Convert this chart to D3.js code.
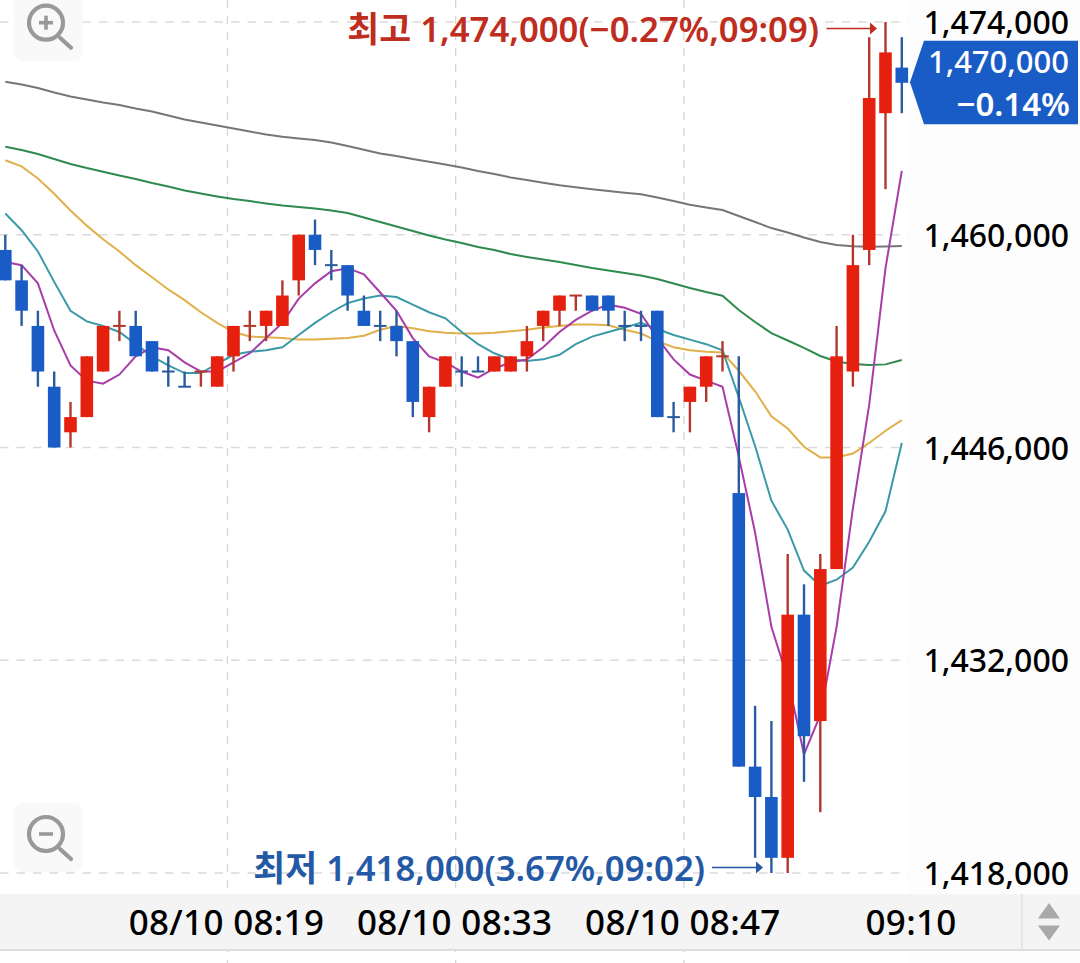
<!DOCTYPE html>
<html><head><meta charset="utf-8">
<script src="https://cdn.jsdelivr.net/npm/d3@7"></script>
<style>
html,body{margin:0;padding:0;background:#fff;overflow:hidden}
text{font-family:"Noto Sans","Noto Sans CJK KR",sans-serif}
</style></head><body><svg id="c" width="1080" height="963"></svg>
<script>
// prices in thousands of won
const opens=[1459,1457,1454,1450,1447,1448,1451,1454,1454,1453,1451,1450,1451,1450,1452,1454,1454,1454,1457,1460,1458,1458,1455,1454,1454,1453,1448,1450,1451,1451,1451,1451,1452,1454,1455,1456,1456,1456,1454,1454,1455,1448,1449,1450,1452,1443,1425,1423,1419,1435,1428,1438,1451,1459,1468,1471];
const closes=[1457,1455,1451,1446,1448,1452,1454,1454,1452,1451,1451,1450,1451,1452,1454,1454,1455,1456,1460,1459,1458,1456,1454,1454,1453,1449,1450,1452,1451,1451,1452,1452,1453,1455,1456,1456,1455,1455,1454,1454,1448,1448,1450,1452,1452,1425,1423,1419,1435,1427,1438,1452,1458,1469,1472,1470];
const highs=[1460,1458,1455,1451,1449,1452,1454,1455,1455,1453,1452,1451,1451,1452,1454,1455,1455,1457,1460,1461,1459,1458,1456,1455,1455,1453,1450,1452,1452,1452,1452,1452,1454,1455,1456,1456,1456,1456,1455,1455,1455,1449,1450,1452,1453,1452,1429,1428,1439,1437,1439,1454,1460,1473,1474,1473];
const lows=[1457,1454,1450,1446,1446,1448,1451,1453,1452,1451,1450,1450,1450,1450,1451,1453,1453,1454,1456,1458,1457,1455,1454,1453,1452,1448,1447,1450,1450,1451,1451,1451,1451,1453,1454,1455,1455,1454,1453,1453,1448,1447,1447,1449,1451,1425,1419,1418,1418,1424,1422,1438,1450,1458,1463,1468];
const redDoji=[7,12,15,35,44];
const ma5=[1458.2,1458.0,1456.8,1453.7,1451.4,1450.4,1450.2,1450.8,1452.0,1452.6,1452.4,1451.6,1451.0,1451.0,1451.6,1452.2,1453.2,1454.2,1455.8,1456.8,1457.6,1457.8,1457.4,1456.2,1455.0,1453.2,1452.0,1451.6,1451.0,1450.6,1451.2,1451.6,1451.8,1452.6,1453.6,1454.4,1455.0,1455.4,1455.2,1454.8,1453.2,1451.8,1450.8,1450.4,1450.0,1445.4,1440.4,1434.2,1430.8,1425.8,1428.4,1434.2,1442.0,1448.8,1457.8,1464.2];
const ma10=[1461.4,1460.3,1458.9,1456.9,1455.0,1454.3,1454.0,1453.6,1452.8,1452.0,1451.4,1450.9,1450.9,1451.5,1452.1,1452.3,1452.4,1452.6,1453.4,1454.2,1454.9,1455.5,1455.8,1456.0,1455.9,1455.4,1454.9,1454.5,1453.6,1452.8,1452.2,1451.8,1451.7,1451.8,1452.1,1452.8,1453.3,1453.6,1453.9,1454.2,1453.8,1453.4,1453.1,1452.8,1452.4,1449.3,1446.1,1442.5,1440.6,1437.9,1436.9,1437.3,1438.1,1439.8,1441.8,1446.3];
const ma20=[1464.9,1464.5,1463.7,1462.7,1461.6,1460.6,1459.7,1458.9,1458.0,1457.2,1456.4,1455.7,1454.9,1454.2,1453.6,1453.3,1453.25,1453.2,1453.1,1453.1,1453.15,1453.2,1453.35,1453.75,1454.0,1453.85,1453.65,1453.55,1453.5,1453.5,1453.55,1453.65,1453.75,1453.9,1454.0,1454.1,1454.1,1454.05,1453.75,1453.5,1453.0,1452.6,1452.4,1452.3,1452.25,1451.05,1449.7,1448.05,1447.25,1446.05,1445.35,1445.35,1445.6,1446.3,1447.1,1447.8];
const ma60=[1465.79,1465.58,1465.31,1464.98,1464.66,1464.39,1464.15,1463.9,1463.67,1463.41,1463.18,1462.91,1462.71,1462.52,1462.35,1462.22,1462.06,1461.92,1461.83,1461.73,1461.6,1461.43,1461.13,1460.84,1460.54,1460.25,1459.95,1459.69,1459.46,1459.19,1459.0,1458.73,1458.54,1458.37,1458.21,1458.01,1457.81,1457.65,1457.48,1457.32,1457.09,1456.79,1456.5,1456.23,1455.99,1455.05,1454.26,1453.53,1453.04,1452.55,1452.02,1451.66,1451.49,1451.43,1451.47,1451.76];
const ma120=[1470.07,1469.89,1469.66,1469.36,1469.1,1468.9,1468.7,1468.54,1468.31,1468.11,1467.85,1467.58,1467.39,1467.19,1466.99,1466.79,1466.6,1466.45,1466.33,1466.23,1466.07,1465.84,1465.6,1465.35,1465.18,1464.98,1464.81,1464.62,1464.43,1464.19,1464.0,1463.77,1463.6,1463.42,1463.26,1463.13,1463.0,1462.88,1462.77,1462.66,1462.45,1462.22,1461.98,1461.79,1461.63,1461.23,1460.84,1460.44,1460.15,1459.82,1459.52,1459.33,1459.24,1459.21,1459.23,1459.26];
const yTicks=[1418,1432,1446,1460,1474];
const yTickLabels=["1,418,000","1,432,000","1,446,000","1,460,000","1,474,000"];
const xTickPos=[13.63,27.63,41.63,55.63];
const xTickLabels=["08/10 08:19","08/10 08:33","08/10 08:47","09:10"];
const lastPrice=["1,470,000","−0.14%"];
const highNote="최고 1,474,000(−0.27%,09:09)";
const lowNote="최저 1,418,000(3.67%,09:02)";

const svg=d3.select("#c");
const x=d3.scaleLinear().domain([0,55]).range([5.3,901.8]);
const y=d3.scaleLinear().domain([1418,1474]).range([873,22]);
const chartRight=908, barTop=894, barBottom=950;
const RED="#e6200e",BLUE="#1a5cc6",REDW="#b3372c",BLUEW="#2a5b9e";

svg.append("rect").attr("x",chartRight).attr("y",0).attr("width",172).attr("height",963).attr("fill","#fdfdfd");

// grid
const gy=svg.append("g").attr("stroke","#dadada").attr("stroke-width",1.3).attr("stroke-dasharray","8.5 8");
gy.selectAll("line").data(yTicks).join("line").attr("x1",0).attr("x2",chartRight).attr("y1",d=>y(d)).attr("y2",d=>y(d));
const gx=svg.append("g").attr("stroke","#d6d6d6").attr("stroke-width",1.3).attr("stroke-dasharray","8 8");
gx.selectAll("line").data(xTickPos.slice(0,3)).join("line").attr("x1",d=>x(d)).attr("x2",d=>x(d)).attr("y1",0).attr("y2",963);

// zoom buttons
function icon(cy,plus){
  const g=svg.append("g");
  g.append("rect").attr("x",14).attr("y",cy-31).attr("width",69).attr("height",69).attr("rx",9).attr("fill","#f9f9f9");
  g.append("circle").attr("cx",46).attr("cy",cy).attr("r",17).attr("fill","none").attr("stroke","#999").attr("stroke-width",4.2);
  g.append("line").attr("x1",60).attr("y1",cy+15).attr("x2",71).attr("y2",cy+25).attr("stroke","#999").attr("stroke-width",4.2).attr("stroke-linecap","round");
  g.append("line").attr("x1",39).attr("y1",cy).attr("x2",53).attr("y2",cy).attr("stroke","#999").attr("stroke-width",3.6);
  if(plus)g.append("line").attr("x1",46).attr("y1",cy-7).attr("x2",46).attr("y2",cy+7).attr("stroke","#999").attr("stroke-width",3.6);
}
icon(22.7,true);icon(834,false);

// moving averages
const line=d3.line().x((d,i)=>x(i)).y(d=>y(d));
[[ma120,"#77757a"],[ma60,"#2f8a50"],[ma20,"#e0b04a"],[ma10,"#3a9aa8"],[ma5,"#a83ca8"]].forEach(([s,c])=>{
  svg.append("path").attr("d",line(s)).attr("fill","none").attr("stroke",c).attr("stroke-width",2);
});

// candles
const idx=d3.range(opens.length);
const isUp=i=>closes[i]>opens[i]||redDoji.includes(i);
const bw=12.6;
const cg=svg.append("g");
cg.selectAll(".w").data(idx).join("line").attr("class","w")
  .attr("x1",i=>x(i)).attr("x2",i=>x(i)).attr("y1",i=>y(highs[i])).attr("y2",i=>y(lows[i]))
  .attr("stroke",i=>isUp(i)?REDW:BLUEW).attr("stroke-width",2.4);
cg.selectAll(".b").data(idx).join("rect").attr("class","b")
  .attr("x",i=>x(i)-bw/2).attr("width",bw)
  .attr("y",i=>opens[i]===closes[i]?y(opens[i])-1:y(Math.max(opens[i],closes[i])))
  .attr("height",i=>opens[i]===closes[i]?2:y(Math.min(opens[i],closes[i]))-y(Math.max(opens[i],closes[i])))
  .attr("fill",i=>opens[i]===closes[i]?(isUp(i)?REDW:BLUEW):(isUp(i)?RED:BLUE));

// high / low notes
function note(txt,xEnd,base,color,ax1,ax2,ay){
  svg.append("text").attr("x",xEnd).attr("y",base).attr("text-anchor","end").attr("font-size",34.7).attr("font-weight",600).attr("fill",color).text(txt);
  svg.append("line").attr("x1",ax1).attr("x2",ax2-6).attr("y1",ay).attr("y2",ay).attr("stroke",color).attr("stroke-width",1.6);
  svg.append("path").attr("d",`M${ax2-7},${ay-6}L${ax2},${ay}L${ax2-7},${ay+6}Z`).attr("fill",color);
}
note(highNote,819,42,"#bf2c20",826.5,877,28.5);
note(lowNote,705,881,"#2459a6",712,763,867.5);

// axis bar
svg.append("rect").attr("x",0).attr("y",barTop).attr("width",1080).attr("height",barBottom-barTop).attr("fill","#f4f4f4");
svg.append("rect").attr("x",0).attr("y",barBottom-1).attr("width",1080).attr("height",2).attr("fill","#dedede");
svg.append("rect").attr("x",1021).attr("y",barTop).attr("width",1.6).attr("height",barBottom-barTop).attr("fill","#e3e3e3");
svg.append("path").attr("d","M1049,903L1060,918.5L1038,918.5Z").attr("fill","#a9a9a9");
svg.append("path").attr("d","M1038,925.5L1060,925.5L1049,940.5Z").attr("fill","#a9a9a9");

// x labels
svg.append("g").selectAll("text").data(xTickPos).join("text")
  .attr("x",d=>x(d)-1).attr("y",935).attr("text-anchor","middle").attr("font-size",35).attr("letter-spacing",0.3).attr("font-weight",500).attr("fill","#000")
  .text((d,i)=>xTickLabels[i]);

// y axis
const yAxis=d3.axisRight(y).tickValues(yTicks).tickSize(0).tickPadding(0).tickFormat((d,i)=>yTickLabels[i]);
const ya=svg.append("g").attr("transform","translate(1069,0)").call(yAxis);
ya.select(".domain").remove();
ya.selectAll("text").attr("x",0).attr("dy",0).attr("y",11.5).attr("text-anchor","end").attr("font-size",32).attr("font-weight",500).attr("fill","#000").attr("font-family",'"Noto Sans"');

// last price tag
svg.append("path").attr("d","M910,82.3L924,40.7L1078,40.7L1078,124.3L924,124.3Z").attr("fill","#1a5cc6");
svg.append("text").attr("x",1069).attr("y",73).attr("text-anchor","end").attr("font-size",31).attr("font-weight",500).attr("fill","#fff").text(lastPrice[0]);
svg.append("text").attr("x",1070).attr("y",116).attr("text-anchor","end").attr("font-size",33).attr("font-weight",600).attr("fill","#fff").text(lastPrice[1]);
</script></body></html>
